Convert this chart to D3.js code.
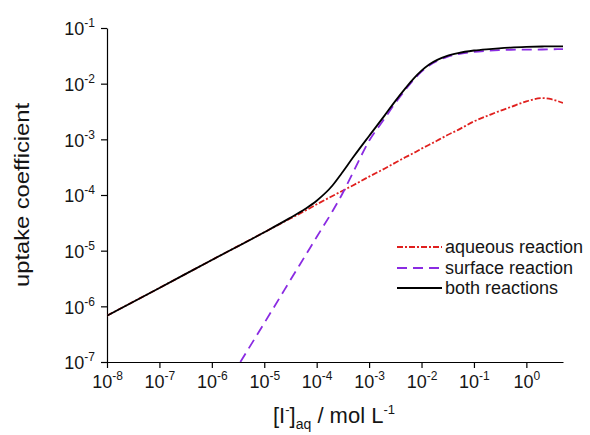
<!DOCTYPE html>
<html>
<head>
<meta charset="utf-8">
<script src="https://cdn.jsdelivr.net/npm/d3@7"></script>
<style>
  body { margin: 0; background: #fff; }
  svg { font-family: "Liberation Sans", Arial, sans-serif; }
</style>
</head>
<body>
<div id="chart"></div>
<script>
// values (log-log plot)
var conc = [1e-8, 1e-7, 1e-6, 1e-5, 3e-5, 6e-5, 1e-4, 2e-4, 3e-4, 5e-4, 1e-3, 2e-3, 3e-3, 5e-3,
            7e-3, 1e-2, 1.4e-2, 2e-2, 3e-2, 5e-2, 0.1, 0.2, 0.3, 0.5, 1, 2, 3, 5];
var aqueous = [6.8e-7, 2.14e-6, 6.8e-6, 2.14e-5, 3.7e-5, 5.2e-5, 6.8e-5, 9.6e-5, 1.17e-4, 1.5e-4,
               2.14e-4, 3.0e-4, 3.7e-4, 4.8e-4, 5.65e-4, 6.8e-4, 8.0e-4, 9.5e-4, 1.17e-3, 1.48e-3,
               2.1e-3, 2.75e-3, 3.2e-3, 3.8e-3, 4.8e-3, 5.5e-3, 5.25e-3, 4.5e-3];
var both = [6.8e-7, 2.14e-6, 6.8e-6, 2.14e-5, 3.8e-5, 5.6e-5, 7.9e-5, 1.48e-4, 2.45e-4, 4.8e-4,
            1.15e-3, 2.72e-3, 4.57e-3, 8.4e-3, 0.0122, 0.0171, 0.0221, 0.0267, 0.0313, 0.0355,
            0.0394, 0.0419, 0.0432, 0.0445, 0.0457, 0.0465, 0.0468, 0.0468];
var concSurf = [3.5e-6, 1e-5, 2e-5, 3e-5, 6e-5, 1e-4, 2e-4, 3e-4, 5e-4, 1e-3, 2e-3, 3e-3, 5e-3,
                7e-3, 1e-2, 1.4e-2, 2e-2, 3e-2, 5e-2, 0.1, 0.2, 0.3, 0.5, 1, 2, 3, 5];
var surface = [1e-7, 5.0e-7, 1.46e-6, 2.75e-6, 8.0e-6, 1.76e-5, 5.1e-5, 1.0e-4, 2.6e-4, 9.4e-4,
               2.4e-3, 4.2e-3, 7.9e-3, 0.0116, 0.0164, 0.0213, 0.0257, 0.0301, 0.034, 0.0373,
               0.0392, 0.040, 0.0407, 0.0409, 0.0411, 0.0414, 0.0418];

var xTicks = [1e-8, 1e-7, 1e-6, 1e-5, 1e-4, 1e-3, 1e-2, 1e-1, 1];
var yTicks = [1e-7, 1e-6, 1e-5, 1e-4, 1e-3, 1e-2, 1e-1];

var seriesNames = ["aqueous reaction", "surface reaction", "both reactions"];

var svgWidth = 590;
var svgHeight = 435;
var margin = {top: 28, right: 27, bottom: 73, left: 107};
var width = svgWidth - margin.left - margin.right;
var height = svgHeight - margin.top - margin.bottom;

var svg = d3.select("#chart").append("svg")
    .attr("width", svgWidth)
    .attr("height", svgHeight);

var chartGroup = svg.append("g")
    .attr("transform", `translate(${margin.left}, ${margin.top})`);

var xScale = d3.scaleLog().domain([1e-8, 5]).range([0, width]);
var yScale = d3.scaleLog().domain([1e-7, 1e-1]).range([height, 0]);

// power-of-ten labels with superscripts
function powerLabel(sel, supSize) {
    sel.text(null).each(function(d) {
        var t = d3.select(this);
        t.append("tspan").text("10");
        t.append("tspan").attr("dy", -8).attr("font-size", supSize)
            .text(Math.round(Math.log10(d)));
    });
}

var xAxis = d3.axisBottom(xScale).tickValues(xTicks).tickSize(6).tickSizeOuter(0).tickPadding(7);
var yAxis = d3.axisLeft(yScale).tickValues(yTicks).tickSize(6).tickSizeOuter(0).tickPadding(6);

var gx = chartGroup.append("g")
    .attr("transform", `translate(0, ${height})`)
    .call(xAxis);
gx.selectAll(".tick text").attr("font-size", 18).attr("fill", "#151515").call(powerLabel, 12);

var gy = chartGroup.append("g").call(yAxis);
gy.selectAll(".tick text").attr("font-size", 18).attr("fill", "#151515").attr("dy", "0.38em").call(powerLabel, 12);

chartGroup.selectAll(".domain, .tick line").attr("stroke", "#000").attr("stroke-width", 1.2);

// clip curves to the plotting area
chartGroup.append("clipPath").attr("id", "plotClip")
    .append("rect").attr("width", width).attr("height", height);

var line = d3.line()
    .x(d => xScale(d[0]))
    .y(d => yScale(d[1]))
    .curve(d3.curveMonotoneX);

var series = [
    {pts: d3.zip(conc, aqueous), color: "#e0201e", dash: "6,2,2,2"},
    {pts: d3.zip(concSurf, surface), color: "#8a2be2", dash: "10,6"},
    {pts: d3.zip(conc, both), color: "#000", dash: null}
];

chartGroup.append("g").attr("clip-path", "url(#plotClip)")
    .selectAll("path")
    .data(series)
    .enter()
    .append("path")
    .attr("d", d => line(d.pts))
    .attr("fill", "none")
    .attr("stroke", d => d.color)
    .attr("stroke-width", 1.8)
    .attr("stroke-dasharray", d => d.dash);

// legend
var legend = svg.append("g").attr("transform", "translate(397, 247)");
var legendRows = legend.selectAll("g")
    .data(series)
    .enter()
    .append("g")
    .attr("transform", (d, i) => `translate(0, ${[0, 21, 41][i]})`);

legendRows.append("line")
    .attr("x1", 0).attr("x2", 45)
    .attr("stroke", d => d.color)
    .attr("stroke-width", 1.8)
    .attr("stroke-dasharray", d => d.dash);

legendRows.append("text")
    .attr("x", 48)
    .attr("dy", "0.35em")
    .attr("font-size", 18)
    .attr("fill", "#151515")
    .text((d, i) => seriesNames[i]);

// axis titles
svg.append("text")
    .attr("transform", "translate(29, 195) rotate(-90)")
    .attr("text-anchor", "middle")
    .attr("font-size", 21)
    .attr("textLength", 184)
    .attr("lengthAdjust", "spacingAndGlyphs")
    .attr("fill", "#151515")
    .text("uptake coefficient");

var xTitle = svg.append("text")
    .attr("x", 334)
    .attr("y", 423)
    .attr("text-anchor", "middle")
    .attr("font-size", 22)
    .attr("fill", "#151515");
xTitle.append("tspan").text("[I");
xTitle.append("tspan").attr("dy", -9).attr("font-size", 13).text("-");
xTitle.append("tspan").attr("dy", 9).text("]");
xTitle.append("tspan").attr("dy", 6).attr("font-size", 14).text("aq");
xTitle.append("tspan").attr("dy", -6).text(" / mol L");
xTitle.append("tspan").attr("dy", -9).attr("font-size", 13).text("-1");
</script>
</body>
</html>
